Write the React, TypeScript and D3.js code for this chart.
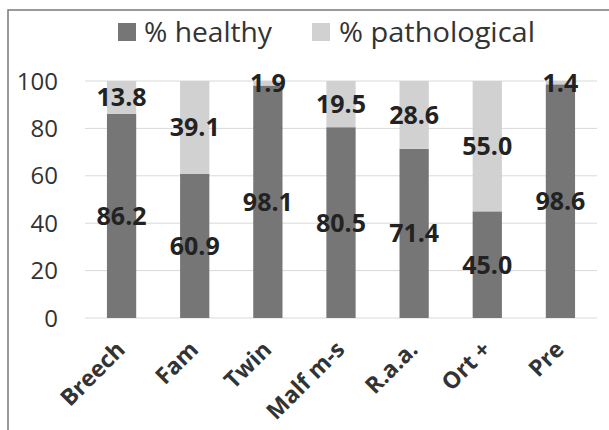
import React from "react";
import * as d3 from "d3";

const categories = ["Breech", "Fam", "Twin", "Malf m-s", "R.a.a.", "Ort +", "Pre"];
const healthy = [86.2, 60.9, 98.1, 80.5, 71.4, 45.0, 98.6];
const pathological = [13.8, 39.1, 1.9, 19.5, 28.6, 55.0, 1.4];
const yTicks = [0, 20, 40, 60, 80, 100];
const seriesNames = ["% healthy", "% pathological"];

const W = 609, H = 430;
const margin = { left: 85, right: 12, top: 81, bottom: 112 };
const DARK = "#767676";
const LIGHT = "#d1d1d1";
const FONT = "'Open Sans', sans-serif";

export default function App() {
  const x = d3.scaleBand<string>().domain(categories).range([margin.left, W - margin.right]).paddingInner(0.6).paddingOuter(0.3);
  const y = d3.scaleLinear().domain([0, 100]).range([H - margin.bottom, margin.top]);
  const rows = categories.map((c, i) => ({ c, h: healthy[i], p: pathological[i] }));
  const stack = d3.stack<any>().keys(["h", "p"])(rows);
  const colors = [DARK, LIGHT];
  const bw = x.bandwidth();
  return (
    <svg width={W} height={H} style={{ position: "absolute", left: 0, top: 0, background: "#fff" }} fontFamily={FONT}>
      <rect x={8} y={10} width={W + 10} height={H + 10} fill="#fff" stroke="#7a7a7a" strokeWidth={1.5} />
      {/* legend */}
      <g>
        <rect x={118} y={23} width={18} height={18} fill={DARK} />
        <text x={144} y={42} fontSize={28} fill="#333" textLength={128} lengthAdjust="spacingAndGlyphs">{seriesNames[0]}</text>
        <rect x={312} y={23} width={18} height={18} fill={LIGHT} />
        <text x={339} y={42} fontSize={28} fill="#333" textLength={196} lengthAdjust="spacingAndGlyphs">{seriesNames[1]}</text>
      </g>
      {/* grid */}
      {yTicks.map((t) => (
        <g key={t}>
          <line x1={margin.left} x2={W - margin.right} y1={y(t)} y2={y(t)} stroke="#d9d9d9" strokeWidth={1} />
          <text x={58} y={y(t)} dy="0.36em" textAnchor="end" fontSize={24} fill="#333">{t}</text>
        </g>
      ))}
      {/* bars */}
      {stack.map((s, si) => (
        <g key={si}>
          {s.map((d, i) => (
            <rect key={i} x={x(categories[i])!} width={bw} y={y(d[1])} height={y(d[0]) - y(d[1])} fill={colors[si]} />
          ))}
        </g>
      ))}
      {/* value labels */}
      {stack.map((s, si) => (
        <g key={"l" + si}>
          {s.map((d, i) => (
            <text key={i} x={x(categories[i])! + bw / 2} y={y((d[0] + d[1]) / 2)} dy="0.36em" textAnchor="middle" fontSize={25} fontWeight="bold" fill="#222">
              {(si === 0 ? healthy[i] : pathological[i]).toFixed(1)}
            </text>
          ))}
        </g>
      ))}
      {/* x labels */}
      {categories.map((c) => {
        const cx = x(c)! + bw / 2 + 5;
        const cy = y(0) + 33;
        return (
          <text key={c} transform={`translate(${cx},${cy}) rotate(-45)`} textAnchor="end" fontSize={23} fontWeight="bold" fill="#333">{c}</text>
        );
      })}
    </svg>
  );
}
